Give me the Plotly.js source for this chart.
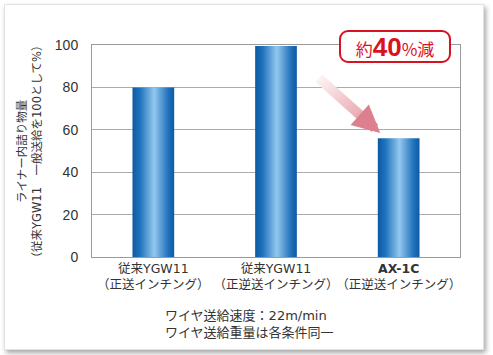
<!DOCTYPE html>
<html>
<head>
<meta charset="utf-8">
<script src="https://cdn.plot.ly/plotly-3.0.1.min.js"></script>
<style>
html,body{margin:0;padding:0;background:#ffffff;width:493px;height:355px;overflow:hidden;}
#card{position:absolute;left:4px;top:4px;width:480px;height:346px;background:#fff;border:1px solid #e2e2e2;box-sizing:border-box;box-shadow:2px 3px 5px rgba(0,0,0,0.35);}
#chart{position:absolute;left:0;top:0;width:493px;height:355px;}
</style>
</head>
<body>
<div id="card"></div>
<div id="chart"></div>
<svg width="0" height="0" style="position:absolute">
<defs>
<linearGradient id="barGrad" x1="0" y1="0" x2="1" y2="0">
<stop offset="0" stop-color="#0b5aa3"/>
<stop offset="0.18" stop-color="#1f72bd"/>
<stop offset="0.52" stop-color="#93c8ee"/>
<stop offset="0.85" stop-color="#2373bd"/>
<stop offset="1" stop-color="#0b5aa3"/>
</linearGradient>
<linearGradient id="arrowGrad" x1="0" y1="0" x2="1" y2="1">
<stop offset="0" stop-color="#fdf3f4"/>
<stop offset="1" stop-color="#df8896"/>
</linearGradient>
</defs>
</svg>
<script>
const categories = ["従来YGW11 正送", "従来YGW11 正逆送", "AX-1C 正逆送"];
const values = [80, 99.5, 56];
const tickLabels = [
  "従来YGW11<br>（正送インチング）",
  "従来YGW11<br>（正逆送インチング）",
  "<b>AX-1C</b><br>（正逆送インチング）"
];
const yTicks = [0, 20, 40, 60, 80, 100];

const FONT = '"Noto Sans CJK JP", "Noto Sans", sans-serif';
const MIXFONT = '"DejaVu Sans", "Noto Sans CJK JP", sans-serif';

const trace = {
  type: 'bar',
  x: categories,
  y: values,
  width: 0.34,
  marker: {color: '#1f6fb8', line: {width: 0}},
  hoverinfo: 'skip'
};

const layout = {
  width: 493,
  height: 355,
  margin: {l: 92, r: 33, t: 45, b: 98},
  paper_bgcolor: 'rgba(0,0,0,0)',
  plot_bgcolor: 'rgba(0,0,0,0)',
  showlegend: false,
  font: {family: FONT, color: '#333', size: 12},
  xaxis: {
    type: 'category',
    tickvals: categories,
    ticktext: tickLabels,
    tickangle: 0,
    showgrid: false,
    showline: true,
    linecolor: '#9a9a9a',
    linewidth: 1,
    mirror: true,
    ticks: '',
    tickfont: {family: MIXFONT, size: 12.5, color: '#333'},
    fixedrange: true
  },
  yaxis: {
    range: [0, 100],
    tickvals: yTicks,
    showgrid: true,
    gridcolor: '#ababab',
    gridwidth: 1,
    showline: true,
    linecolor: '#9a9a9a',
    linewidth: 1,
    mirror: true,
    zeroline: false,
    ticks: '',
    ticklabelstandoff: 10,
    tickfont: {family: '"Liberation Sans", Arial, sans-serif', size: 14, color: '#333'},
    fixedrange: true
  },
  annotations: [
    {
      xref: 'paper', yref: 'paper',
      x: 0.8247, y: 0.993,
      xanchor: 'center', yanchor: 'middle',
      text: '約<b><span style="font-size:26px;font-family:Liberation Sans, Arial, sans-serif">40</span></b><span style="font-size:17px">%</span>減',
      font: {family: FONT, size: 17, color: '#d9121f'},
      showarrow: false,
      bgcolor: '#ffffff',
      bordercolor: '#d9121f',
      borderwidth: 2,
      borderpad: 2,
      width: 104,
      height: 25
    },
    {
      x: 1.85, y: 58.5,
      ax: -63, ay: -56,
      text: '',
      showarrow: true,
      arrowhead: 2,
      arrowsize: 0.55,
      arrowwidth: 10,
      arrowcolor: '#dc7f8e',
      standoff: 0
    },
    {
      xref: 'paper', yref: 'paper',
      x: -0.17, y: 0.5,
      xanchor: 'center', yanchor: 'middle',
      textangle: -90,
      text: 'ライナー内詰り物量<br>（従来YGW11　一般送給を100として%）',
      font: {family: MIXFONT, size: 11.5, color: '#333'},
      showarrow: false
    },
    {
      xref: 'paper', yref: 'paper',
      x: 0.193, y: -0.318,
      xanchor: 'left', yanchor: 'middle',
      align: 'left',
      text: 'ワイヤ送給速度：22m/min<br>ワイヤ送給重量は各条件同一',
      font: {family: MIXFONT, size: 13, color: '#333'},
      showarrow: false
    }
  ]
};

Plotly.newPlot('chart', [trace], layout, {displayModeBar: false, staticPlot: true}).then(function(gd){
  gd.querySelectorAll('.trace.bars .point path').forEach(function(p){
    p.style.fill = 'url(#barGrad)';
  });
  const anns = gd.querySelectorAll('.annotation');
  if (anns[0]) {
    const bg = anns[0].querySelector('rect.bg');
    if (bg) { bg.setAttribute('rx', 8); bg.setAttribute('ry', 8); }
  }
  if (anns[1]) {
    const paths = anns[1].querySelectorAll('.annotation-arrow-g path');
    paths.forEach(function(p, i){
      if (i === 0) { p.style.stroke = 'url(#arrowGrad)'; }
    });
  }
});
</script>
</body>
</html>
